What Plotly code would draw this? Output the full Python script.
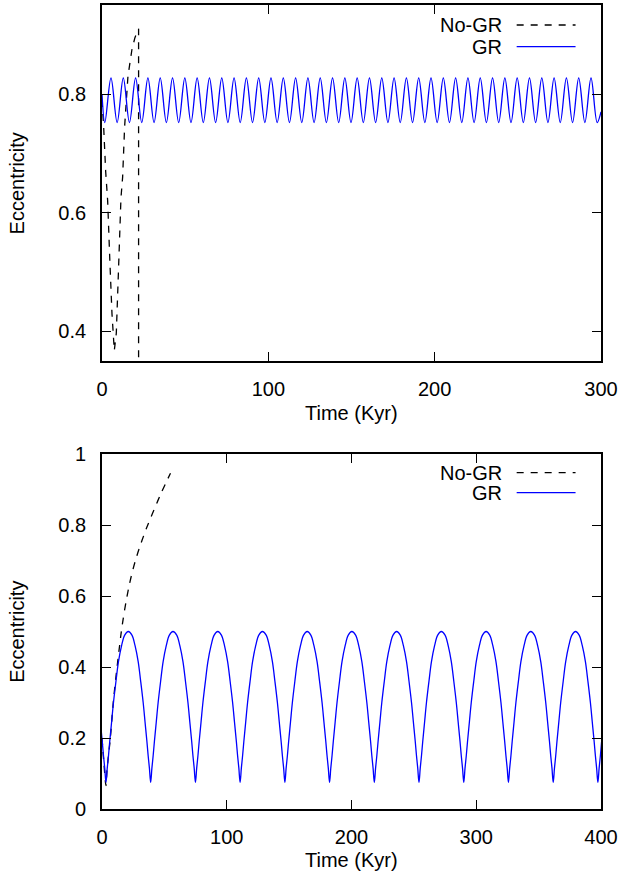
import plotly.graph_objects as go
from plotly.subplots import make_subplots

# --- Panneau du haut : valeurs ---
nogr1_t = [0.0, 1.0, 2.2, 3.4, 4.7, 6.0, 7.4, 8.6, 10.0, 11.4, 12.4, 13.6, 15.6, 18.0, 19.8, 21.6, 22.0, 22.0]
nogr1_e = [0.79, 0.745, 0.67, 0.62, 0.52, 0.43, 0.368, 0.397, 0.51, 0.625, 0.66, 0.745, 0.83, 0.875, 0.895, 0.907, 0.91, 0.0]

gr1_start_t = 0.0
gr1_start_e = 0.80
gr1_peak_t = [5.4, 12.8, 20.2, 27.6, 35.0, 42.4, 49.8, 57.2, 64.6, 72.0,
              79.4, 86.8, 94.2, 101.6, 109.0, 116.4, 123.8, 131.2, 138.6, 146.0,
              153.4, 160.8, 168.2, 175.6, 183.0, 190.4, 197.8, 205.2, 212.6, 220.0,
              227.4, 234.8, 242.2, 249.6, 257.0, 264.4, 271.8, 279.2, 286.6, 294.0]
gr1_trough_t = [1.7, 9.1, 16.5, 23.9, 31.3, 38.7, 46.1, 53.5, 60.9, 68.3,
                75.7, 83.1, 90.5, 97.9, 105.3, 112.7, 120.1, 127.5, 134.9, 142.3,
                149.7, 157.1, 164.5, 171.9, 179.3, 186.7, 194.1, 201.5, 208.9, 216.3,
                223.7, 231.1, 238.5, 245.9, 253.3, 260.7, 268.1, 275.5, 282.9, 290.3, 297.7]
gr1_peak_e = 0.827
gr1_trough_e = 0.752
gr1_end_t = 300.0
gr1_end_e = 0.77

# --- Panneau du bas ---
nogr2_t = [0.0, 1.5, 3.2, 4.0, 6.7, 9.3, 14.1, 16.1, 20.1, 24.1, 28.1, 32.1, 36.1, 40.2, 46.8, 54.9]
nogr2_e = [0.2, 0.13, 0.066, 0.11, 0.20, 0.31, 0.46, 0.515, 0.60, 0.665, 0.715, 0.757, 0.795, 0.83, 0.885, 0.946]

# minima de GR et profil d'un demi-cycle (écart au minimum en Kyr)
gr2_trough_t = [3.2, 39.0, 74.9, 110.7, 146.6, 182.4, 218.3, 254.1, 290.0, 325.8, 361.7, 397.5]
gr2_half_dt = [0.0, 1.0, 2.0, 3.0, 4.5, 6.0, 8.0, 10.0, 12.5, 15.0, 17.9]
gr2_half_e = [0.075, 0.115, 0.15, 0.19, 0.245, 0.30, 0.36, 0.415, 0.46, 0.49, 0.50]

FONT = "Liberation Sans, Arial, sans-serif"
FS = 20
DASH = "7px,7px"


def build_gr1():
    pts = [(gr1_start_t, gr1_start_e)]
    pts += [(t, gr1_peak_e) for t in gr1_peak_t]
    pts += [(t, gr1_trough_e) for t in gr1_trough_t]
    pts.append((gr1_end_t, gr1_end_e))
    pts.sort()
    return [p[0] for p in pts], [p[1] for p in pts]


def build_gr2():
    ts, es = [], []
    for T in gr2_trough_t:
        # côté avant le minimum (le pic est déjà posé par le cycle précédent)
        for dt, e in zip(reversed(gr2_half_dt[1:-1]), reversed(gr2_half_e[1:-1])):
            ts.append(T - dt)
            es.append(e)
        for dt, e in zip(gr2_half_dt, gr2_half_e):
            ts.append(T + dt)
            es.append(e)
    return ts, es


fig = make_subplots(rows=2, cols=1, vertical_spacing=0.0)

gr1_t, gr1_e = build_gr1()
gr2_t, gr2_e = build_gr2()

fig.add_trace(go.Scatter(x=nogr1_t, y=nogr1_e, mode="lines",
                         line=dict(color="black", width=1.3, dash=DASH)), row=1, col=1)
fig.add_trace(go.Scatter(x=gr1_t, y=gr1_e, mode="lines", line_shape="spline",
                         line=dict(color="#0000ff", width=1.3)), row=1, col=1)
fig.add_trace(go.Scatter(x=nogr2_t, y=nogr2_e, mode="lines", line_shape="spline",
                         line=dict(color="black", width=1.3, dash=DASH)), row=2, col=1)
fig.add_trace(go.Scatter(x=gr2_t, y=gr2_e, mode="lines", line_shape="spline",
                         line=dict(color="#0000ff", width=1.3)), row=2, col=1)

axis_style = dict(showline=True, linecolor="black", linewidth=1.8, mirror="ticks",
                  ticks="inside", ticklen=9, tickwidth=1.3, tickcolor="black",
                  showgrid=False, zeroline=False, automargin=False,
                  tickfont=dict(family=FONT, size=FS, color="black"))

fig.update_xaxes(**axis_style)
fig.update_yaxes(**axis_style)

fig.update_xaxes(range=[0, 300], dtick=100, domain=[0, 1], ticklabelstandoff=9, row=1, col=1)
fig.update_xaxes(range=[0, 400], dtick=100, domain=[0, 1], ticklabelstandoff=9, row=2, col=1)
fig.update_yaxes(range=[0.35, 0.95], tickvals=[0.4, 0.6, 0.8], ticktext=["0.4", "0.6", "0.8"],
                 domain=[0.557, 1.0], ticklabelstandoff=10, row=1, col=1)
fig.update_yaxes(range=[0, 1], tickvals=[0, 0.2, 0.4, 0.6, 0.8, 1],
                 ticktext=["0", "0.2", "0.4", "0.6", "0.8", "1"],
                 domain=[0.0, 0.4415], ticklabelstandoff=10, row=2, col=1)

annotations = []
txt = dict(family=FONT, size=FS, color="black")
# titres des axes
for y in (0.4925, -0.0634):
    annotations.append(dict(text="Time (Kyr)", x=0.5, y=y, xref="paper", yref="paper",
                            showarrow=False, font=txt, xanchor="center", yanchor="middle"))
for y in (0.7786, 0.2208):
    annotations.append(dict(text="Eccentricity", x=-0.1696, y=y, xref="paper", yref="paper",
                            showarrow=False, font=txt, textangle=-90,
                            xanchor="center", yanchor="middle"))

# légendes façon gnuplot (texte à gauche, échantillon à droite)
shapes = []
for y_nogr, y_gr in ((0.9751, 0.9482), (0.4183, 0.3934)):
    for label, y, color, dash in (("No-GR", y_nogr, "black", DASH),
                                  ("GR", y_gr, "#0000ff", "solid")):
        annotations.append(dict(text=label, x=0.806, y=y, xref="paper", yref="paper",
                                showarrow=False, font=txt, xanchor="right", yanchor="middle"))
        shapes.append(dict(type="line", xref="paper", yref="paper", x0=0.831, x1=0.949,
                           y0=y, y1=y, line=dict(color=color, width=1.3, dash=dash)))

fig.update_layout(
    width=622, height=874,
    margin=dict(l=102, r=21, t=5, b=65),
    paper_bgcolor="white", plot_bgcolor="white",
    showlegend=False,
    annotations=annotations,
    shapes=shapes,
    font=dict(family=FONT, size=FS, color="black"),
)

# pas de marge autour de la page pour coller au cadre 622x874
fig.write_html("out.html", config={"displayModeBar": False},
               post_script="document.body.style.margin='0';")
